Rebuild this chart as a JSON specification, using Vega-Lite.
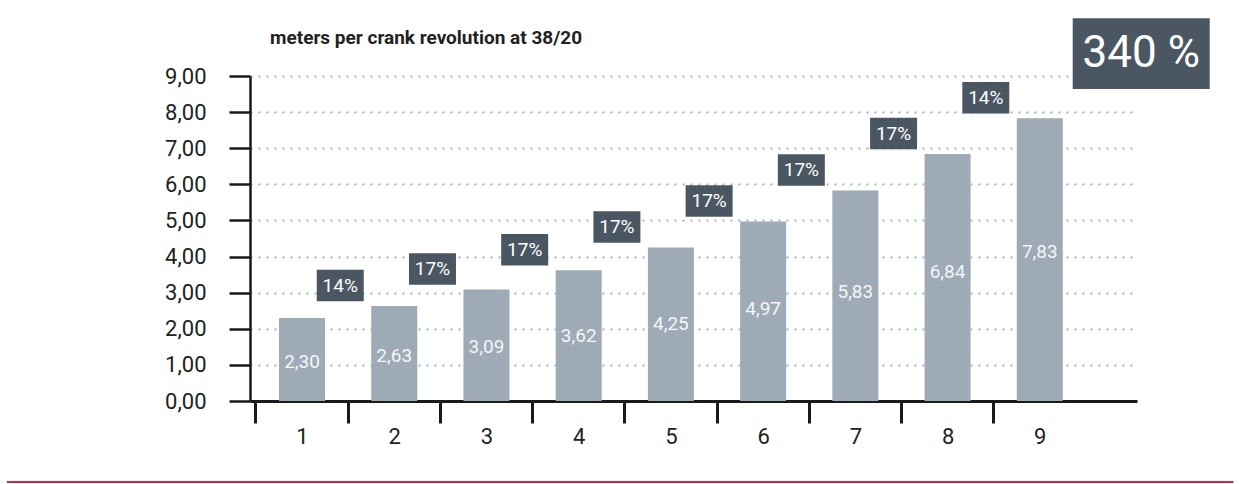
{
  "$schema": "https://vega.github.io/schema/vega-lite/v6.json",
  "width": 887,
  "height": 325,
  "autosize": {"type": "none"},
  "padding": {"left": 250, "top": 76, "right": 102, "bottom": 83},
  "background": "white",
  "config": {
    "view": {"stroke": null},
    "font": "Roboto",
    "locale": {"number": {"decimal": ",", "thousands": ".", "grouping": [3], "currency": ["", " €"]}}
  },
  "title": {
    "text": "meters per crank revolution at 38/20",
    "anchor": "start",
    "frame": "group",
    "dx": 20,
    "offset": -30,
    "font": "Roboto",
    "fontSize": 19,
    "fontWeight": "bold",
    "color": "#222222"
  },
  "datasets": {
    "gears": [
      {"gear": 1, "meters": 2.30},
      {"gear": 2, "meters": 2.63},
      {"gear": 3, "meters": 3.09},
      {"gear": 4, "meters": 3.62},
      {"gear": 5, "meters": 4.25},
      {"gear": 6, "meters": 4.97},
      {"gear": 7, "meters": 5.83},
      {"gear": 8, "meters": 6.84},
      {"gear": 9, "meters": 7.83}
    ],
    "steps": [
      {"gear": 2, "meters": 2.63, "increase": "14%"},
      {"gear": 3, "meters": 3.09, "increase": "17%"},
      {"gear": 4, "meters": 3.62, "increase": "17%"},
      {"gear": 5, "meters": 4.25, "increase": "17%"},
      {"gear": 6, "meters": 4.97, "increase": "17%"},
      {"gear": 7, "meters": 5.83, "increase": "17%"},
      {"gear": 8, "meters": 6.84, "increase": "17%"},
      {"gear": 9, "meters": 7.83, "increase": "14%"}
    ],
    "total": [{"label": "340 %"}]
  },
  "resolve": {"scale": {"y": "independent"}},
  "layer": [
    {
      "data": {"name": "gears"},
      "mark": {"type": "bar", "width": 46, "color": "#9eaab6"},
      "encoding": {
        "x": {
          "field": "gear", "type": "quantitative",
          "scale": {"domain": [0.49, 10.0], "nice": false, "zero": false},
          "axis": {
            "values": [1, 2, 3, 4, 5, 6, 7, 8, 9], "format": "d", "title": null,
            "tickOffset": -46.6, "labelOffset": 46.6,
            "tickSize": 22, "tickWidth": 3, "tickColor": "#1a1a1a",
            "domainWidth": 3, "domainColor": "#1a1a1a",
            "labelFontSize": 22, "labelColor": "#222222", "labelPadding": 3,
            "labelFont": "Roboto", "grid": false
          }
        },
        "y": {
          "field": "meters", "type": "quantitative",
          "scale": {"domain": [0, 9], "nice": false},
          "axis": {
            "values": [0, 1, 2, 3, 4, 5, 6, 7, 8, 9], "format": ".2f", "title": null,
            "tickSize": 21, "tickWidth": 2.5, "tickColor": "#1a1a1a",
            "domainWidth": 2.5, "domainColor": "#1a1a1a",
            "labelFontSize": 22, "labelColor": "#222222", "labelPadding": 23,
            "labelFont": "Roboto",
            "grid": true, "gridDash": [2, 6], "gridColor": "#a9b4bf", "gridWidth": 2
          }
        }
      }
    },
    {
      "data": {"name": "gears"},
      "mark": {"type": "text", "color": "#f4f6f8", "fontSize": 19, "baseline": "middle", "align": "center", "font": "Roboto"},
      "encoding": {
        "x": {"field": "gear", "type": "quantitative"},
        "y": {"field": "meters", "type": "quantitative", "scale": {"domain": [0.36, 16.7], "nice": false, "zero": false}, "axis": null},
        "text": {"field": "meters", "type": "quantitative", "format": ".2f"}
      }
    },
    {
      "data": {"name": "steps"},
      "mark": {"type": "point", "shape": "M-1,-0.67H1V0.67H-1Z", "size": 2209, "filled": true, "opacity": 1, "color": "#4a5763", "strokeWidth": 0},
      "encoding": {
        "x": {"field": "gear", "type": "quantitative"},
        "xOffset": {"value": -54},
        "y": {"field": "meters", "type": "quantitative", "scale": {"domain": [0, 9], "nice": false}, "axis": null},
        "yOffset": {"value": -20.5}
      }
    },
    {
      "data": {"name": "steps"},
      "mark": {"type": "text", "color": "#ffffff", "fontSize": 19, "baseline": "middle", "align": "center", "font": "Roboto"},
      "encoding": {
        "x": {"field": "gear", "type": "quantitative"},
        "xOffset": {"value": -54},
        "y": {"field": "meters", "type": "quantitative", "scale": {"domain": [0, 9], "nice": false}, "axis": null},
        "yOffset": {"value": -20.5},
        "text": {"field": "increase", "type": "nominal"}
      }
    },
    {
      "data": {"name": "total"},
      "mark": {"type": "point", "shape": "M-1,-0.518H1V0.518H-1Z", "size": 18769, "filled": true, "opacity": 1, "color": "#4a5763", "strokeWidth": 0, "clip": false},
      "encoding": {
        "x": {"datum": 10.1, "type": "quantitative"},
        "y": {"datum": 9.62, "type": "quantitative", "scale": {"domain": [0, 9], "nice": false}, "axis": null}
      }
    },
    {
      "data": {"name": "total"},
      "mark": {"type": "text", "color": "#ffffff", "fontSize": 44, "baseline": "middle", "align": "center", "font": "Roboto", "clip": false},
      "encoding": {
        "x": {"datum": 10.1, "type": "quantitative"},
        "y": {"datum": 9.62, "type": "quantitative", "scale": {"domain": [0, 9], "nice": false}, "axis": null},
        "text": {"field": "label", "type": "nominal"}
      }
    },
    {
      "data": {"name": "total"},
      "mark": {"type": "rule", "color": "#c92a45", "strokeWidth": 2, "clip": false},
      "encoding": {
        "x": {"datum": -2.2, "type": "quantitative"},
        "x2": {"datum": 11.1},
        "y": {"datum": -2.243, "type": "quantitative", "scale": {"domain": [0, 9], "nice": false}, "axis": null}
      }
    }
  ]
}
